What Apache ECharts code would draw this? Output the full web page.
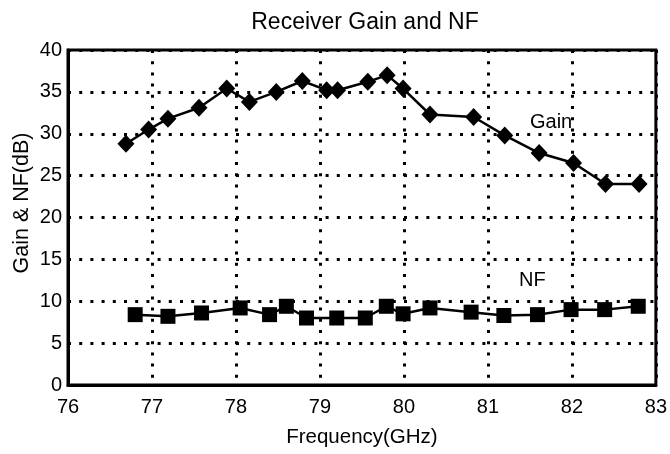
<!DOCTYPE html>
<html><head><meta charset="utf-8">
<script src="https://cdn.jsdelivr.net/npm/echarts@6/dist/echarts.min.js"></script>
<style>html,body{margin:0;padding:0;background:#fff}#c{width:670px;height:454px}</style>
</head><body><div id="c"></div>
<script>
var gainFreq = [76.69,76.96,77.19,77.56,77.89,78.16,78.48,78.79,79.08,79.21,79.57,79.80,79.99,80.31,80.83,81.20,81.61,82.02,82.40,82.80];
var gainVal  = [28.8,30.5,31.8,33.1,35.4,33.8,35.0,36.3,35.2,35.2,36.2,37.0,35.4,32.3,32.0,29.8,27.7,26.5,24.0,24.0];
var nfFreq = [76.80,77.19,77.59,78.05,78.40,78.60,78.84,79.20,79.54,79.79,79.99,80.31,80.80,81.19,81.59,81.99,82.39,82.79];
var nfVal  = [8.4,8.2,8.6,9.2,8.4,9.4,8.0,8.0,8.0,9.4,8.5,9.2,8.7,8.3,8.4,9.0,9.0,9.4];
var xTicks = [76,77,78,79,80,81,82,83];
var yTicks = [0,5,10,15,20,25,30,35,40];

function pairs(xs, ys){ return xs.map(function(x,i){return [x, ys[i]];}); }
var font = 'Liberation Sans, Arial, sans-serif';
var gridLine = {show:true, lineStyle:{color:'#000', width:3, type:[3,8.2], cap:'butt'}};
var chart = echarts.init(document.getElementById('c'), null, {renderer:'canvas'});
chart.setOption({
  animation:false,
  backgroundColor:'#fff',
  title:{text:'Receiver Gain and NF', left:360, top:6, textAlign:'center',
    textStyle:{fontFamily:font, fontSize:23, fontWeight:'normal', color:'#000'}},
  grid:{left:68, right:14, top:50, bottom:69, show:true, borderColor:'#000', borderWidth:3, backgroundColor:'transparent'},
  xAxis:{type:'value', min:xTicks[0], max:xTicks[xTicks.length-1], interval:1,
    name:'Frequency(GHz)', nameLocation:'middle', nameGap:42,
    nameTextStyle:{fontFamily:font, fontSize:20.5, color:'#000'},
    axisLine:{show:true, lineStyle:{color:'#000', width:3}}, axisTick:{show:false},
    axisLabel:{fontFamily:font, fontSize:20, color:'#000', margin:12},
    splitLine:gridLine},
  yAxis:{type:'value', min:yTicks[0], max:yTicks[yTicks.length-1], interval:5,
    axisLine:{show:true, lineStyle:{color:'#000', width:3}}, axisTick:{show:false},
    axisLabel:{fontFamily:font, fontSize:20, color:'#000', margin:6},
    splitLine:gridLine},
  series:[
    {type:'line', name:'Gain', data:pairs(gainFreq,gainVal), symbol:'diamond', symbolSize:[17,18],
     lineStyle:{color:'#000', width:2.5}, itemStyle:{color:'#000'}, z:5},
    {type:'line', name:'NF', data:pairs(nfFreq,nfVal), symbol:'rect', symbolSize:15,
     lineStyle:{color:'#000', width:2.5}, itemStyle:{color:'#000'}, z:5}
  ],
  graphic:[
    {type:'text', x:22, y:203, rotation:Math.PI/2, z:10,
     style:{text:'Gain & NF(dB)', fontFamily:font, fontSize:21.5, fill:'#000', align:'center', verticalAlign:'middle'}},
    {type:'text', left:530, top:112, z:10, style:{text:'Gain', fontFamily:font, fontSize:20, fill:'#000'}},
    {type:'text', left:519, top:270, z:10, style:{text:'NF', fontFamily:font, fontSize:20, fill:'#000'}}
  ]
});
</script></body></html>
